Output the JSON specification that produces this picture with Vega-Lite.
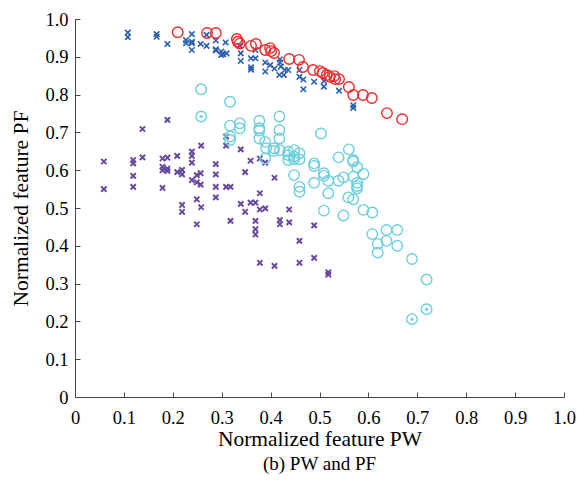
{
  "$schema": "https://vega.github.io/schema/vega-lite/v6.json",
  "width": 489,
  "height": 378,
  "autosize": {"type": "none"},
  "padding": {"left": 75, "top": 19, "right": 14, "bottom": 85},
  "background": "white",
  "title": {"text": "(b) PW and PF", "orient": "bottom", "font": "Times New Roman", "fontSize": 19, "fontWeight": "normal", "color": "#000", "offset": 5},
  "config": {
    "view": {"stroke": null},
    "axis": {"grid": false, "domainColor": "#444", "tickColor": "#444", "tickSize": -5, "labelFlush": false, "labelFont": "Times New Roman", "labelFontSize": 18.5, "labelColor": "#000", "titleFont": "Times New Roman", "titleFontSize": 21.5, "titleFontWeight": "normal", "titleColor": "#000"}
  },
  "datasets": {
    "red": [
      {"x":0.21,"y":0.965},{"x":0.27,"y":0.963},{"x":0.288,"y":0.963},{"x":0.331,"y":0.947},{"x":0.333,"y":0.94},{"x":0.337,"y":0.935},{"x":0.36,"y":0.929},{"x":0.37,"y":0.934},{"x":0.389,"y":0.918},{"x":0.399,"y":0.923},{"x":0.401,"y":0.915},{"x":0.407,"y":0.91},{"x":0.438,"y":0.894},{"x":0.458,"y":0.892},{"x":0.466,"y":0.873},{"x":0.487,"y":0.865},{"x":0.501,"y":0.862},{"x":0.507,"y":0.857},{"x":0.515,"y":0.852},{"x":0.521,"y":0.847},{"x":0.53,"y":0.849},{"x":0.532,"y":0.841},{"x":0.54,"y":0.841},{"x":0.56,"y":0.82},{"x":0.569,"y":0.799},{"x":0.589,"y":0.799},{"x":0.607,"y":0.791},{"x":0.638,"y":0.751},{"x":0.669,"y":0.735}
    ],
    "blue": [
      {"x":0.108,"y":0.964},{"x":0.108,"y":0.952},{"x":0.167,"y":0.96},{"x":0.167,"y":0.953},{"x":0.189,"y":0.934},{"x":0.227,"y":0.944},{"x":0.227,"y":0.936},{"x":0.239,"y":0.96},{"x":0.239,"y":0.94},{"x":0.239,"y":0.936},{"x":0.239,"y":0.918},{"x":0.257,"y":0.934},{"x":0.269,"y":0.958},{"x":0.269,"y":0.929},{"x":0.288,"y":0.943},{"x":0.288,"y":0.92},{"x":0.288,"y":0.917},{"x":0.299,"y":0.914},{"x":0.299,"y":0.905},{"x":0.303,"y":0.907},{"x":0.308,"y":0.938},{"x":0.31,"y":0.909},{"x":0.337,"y":0.929},{"x":0.339,"y":0.909},{"x":0.339,"y":0.889},{"x":0.36,"y":0.896},{"x":0.36,"y":0.872},{"x":0.36,"y":0.866},{"x":0.369,"y":0.896},{"x":0.369,"y":0.918},{"x":0.389,"y":0.885},{"x":0.389,"y":0.861},{"x":0.399,"y":0.878},{"x":0.408,"y":0.869},{"x":0.419,"y":0.893},{"x":0.419,"y":0.885},{"x":0.421,"y":0.874},{"x":0.418,"y":0.852},{"x":0.427,"y":0.852},{"x":0.429,"y":0.865},{"x":0.436,"y":0.865},{"x":0.459,"y":0.865},{"x":0.459,"y":0.847},{"x":0.467,"y":0.84},{"x":0.467,"y":0.814},{"x":0.489,"y":0.834},{"x":0.509,"y":0.836},{"x":0.509,"y":0.821},{"x":0.54,"y":0.81},{"x":0.569,"y":0.772},{"x":0.569,"y":0.765}
    ],
    "cyan": [
      {"x":0.258,"y":0.814},{"x":0.317,"y":0.781},{"x":0.258,"y":0.742},{"x":0.317,"y":0.718},{"x":0.317,"y":0.689},{"x":0.317,"y":0.68},{"x":0.337,"y":0.724},{"x":0.337,"y":0.711},{"x":0.377,"y":0.731},{"x":0.377,"y":0.711},{"x":0.377,"y":0.705},{"x":0.377,"y":0.684},{"x":0.389,"y":0.675},{"x":0.418,"y":0.742},{"x":0.418,"y":0.706},{"x":0.418,"y":0.684},{"x":0.391,"y":0.658},{"x":0.407,"y":0.658},{"x":0.406,"y":0.651},{"x":0.419,"y":0.653},{"x":0.436,"y":0.649},{"x":0.436,"y":0.64},{"x":0.436,"y":0.627},{"x":0.448,"y":0.653},{"x":0.448,"y":0.636},{"x":0.448,"y":0.629},{"x":0.459,"y":0.645},{"x":0.459,"y":0.629},{"x":0.389,"y":0.631},{"x":0.448,"y":0.587},{"x":0.459,"y":0.556},{"x":0.459,"y":0.543},{"x":0.489,"y":0.618},{"x":0.489,"y":0.611},{"x":0.489,"y":0.567},{"x":0.503,"y":0.697},{"x":0.509,"y":0.592},{"x":0.509,"y":0.585},{"x":0.518,"y":0.572},{"x":0.518,"y":0.539},{"x":0.509,"y":0.493},{"x":0.539,"y":0.634},{"x":0.539,"y":0.572},{"x":0.549,"y":0.581},{"x":0.549,"y":0.48},{"x":0.56,"y":0.655},{"x":0.569,"y":0.627},{"x":0.569,"y":0.623},{"x":0.577,"y":0.608},{"x":0.569,"y":0.583},{"x":0.577,"y":0.567},{"x":0.577,"y":0.558},{"x":0.577,"y":0.552},{"x":0.59,"y":0.59},{"x":0.559,"y":0.528},{"x":0.569,"y":0.523},{"x":0.59,"y":0.495},{"x":0.608,"y":0.488},{"x":0.608,"y":0.431},{"x":0.619,"y":0.405},{"x":0.619,"y":0.382},{"x":0.637,"y":0.442},{"x":0.637,"y":0.413},{"x":0.659,"y":0.442},{"x":0.659,"y":0.4},{"x":0.689,"y":0.365},{"x":0.719,"y":0.311},{"x":0.719,"y":0.232},{"x":0.689,"y":0.206}
    ],
    "dots": [
      {"x":0.258,"y":0.742},{"x":0.719,"y":0.232},{"x":0.689,"y":0.206}
    ],
    "purple": [
      {"x":0.189,"y":0.733},{"x":0.138,"y":0.709},{"x":0.309,"y":0.689},{"x":0.309,"y":0.665},{"x":0.258,"y":0.665},{"x":0.339,"y":0.655},{"x":0.138,"y":0.634},{"x":0.059,"y":0.623},{"x":0.119,"y":0.627},{"x":0.119,"y":0.618},{"x":0.179,"y":0.631},{"x":0.189,"y":0.633},{"x":0.209,"y":0.638},{"x":0.239,"y":0.649},{"x":0.239,"y":0.638},{"x":0.239,"y":0.62},{"x":0.288,"y":0.616},{"x":0.359,"y":0.625},{"x":0.378,"y":0.631},{"x":0.389,"y":0.62},{"x":0.179,"y":0.609},{"x":0.179,"y":0.6},{"x":0.189,"y":0.604},{"x":0.189,"y":0.598},{"x":0.209,"y":0.595},{"x":0.219,"y":0.601},{"x":0.219,"y":0.589},{"x":0.257,"y":0.592},{"x":0.249,"y":0.587},{"x":0.288,"y":0.589},{"x":0.348,"y":0.595},{"x":0.119,"y":0.585},{"x":0.059,"y":0.55},{"x":0.119,"y":0.556},{"x":0.179,"y":0.553},{"x":0.239,"y":0.574},{"x":0.249,"y":0.568},{"x":0.257,"y":0.562},{"x":0.288,"y":0.556},{"x":0.309,"y":0.556},{"x":0.318,"y":0.556},{"x":0.408,"y":0.58},{"x":0.288,"y":0.528},{"x":0.249,"y":0.523},{"x":0.219,"y":0.508},{"x":0.219,"y":0.49},{"x":0.258,"y":0.502},{"x":0.339,"y":0.511},{"x":0.348,"y":0.49},{"x":0.359,"y":0.514},{"x":0.369,"y":0.514},{"x":0.378,"y":0.539},{"x":0.378,"y":0.496},{"x":0.389,"y":0.499},{"x":0.438,"y":0.496},{"x":0.249,"y":0.457},{"x":0.318,"y":0.466},{"x":0.369,"y":0.466},{"x":0.369,"y":0.444},{"x":0.369,"y":0.43},{"x":0.419,"y":0.468},{"x":0.419,"y":0.457},{"x":0.438,"y":0.462},{"x":0.489,"y":0.454},{"x":0.459,"y":0.413},{"x":0.489,"y":0.368},{"x":0.378,"y":0.355},{"x":0.408,"y":0.347},{"x":0.459,"y":0.355},{"x":0.518,"y":0.324},{"x":0.518,"y":0.33}
    ]
  },
  "encoding": {
    "x": {"field": "x", "type": "quantitative", "scale": {"domain": [0, 1], "nice": false, "zero": false}, "axis": {"title": "Normalized feature PW", "values": [0,0.1,0.2,0.3,0.4,0.5,0.6,0.7,0.8,0.9,1], "labelExpr": "datum.value == 0 ? '0' : format(datum.value, '.1f')", "labelFont": "Times New Roman", "labelFontSize": 18.5, "labelPadding": 16, "titleBaseline": "alphabetic", "titleY": 48}},
    "y": {"field": "y", "type": "quantitative", "scale": {"domain": [0, 1], "nice": false, "zero": false}, "axis": {"title": "Normalized feature PF", "values": [0,0.1,0.2,0.3,0.4,0.5,0.6,0.7,0.8,0.9,1], "labelExpr": "datum.value == 0 ? '0' : format(datum.value, '.1f')", "labelFont": "Times New Roman", "labelFontSize": 18.5, "labelPadding": 12, "titleBaseline": "alphabetic", "titleX": -48, "titleY": 189}}
  },
  "layer": [
    {"data": {"name": "blue"}, "mark": {"type": "point", "shape": "M-1,-1L1,1M1,-1L-1,1", "filled": false, "stroke": "#2b5fae", "strokeWidth": 1.6, "size": 30, "opacity": 1}},
    {"data": {"name": "purple"}, "mark": {"type": "point", "shape": "M-1,-1L1,1M1,-1L-1,1", "filled": false, "stroke": "#6a4a9e", "strokeWidth": 2, "size": 28, "opacity": 1}},
    {"data": {"name": "cyan"}, "mark": {"type": "point", "shape": "circle", "filled": false, "stroke": "#6ccfdc", "strokeWidth": 1.4, "size": 110, "opacity": 1}},
    {"data": {"name": "dots"}, "mark": {"type": "point", "shape": "circle", "filled": true, "fill": "#6ccfdc", "strokeWidth": 0, "size": 10, "opacity": 1}},
    {"data": {"name": "red"}, "mark": {"type": "point", "shape": "circle", "filled": false, "stroke": "#ee2a2a", "strokeWidth": 1.4, "size": 110, "opacity": 1}}
  ]
}
